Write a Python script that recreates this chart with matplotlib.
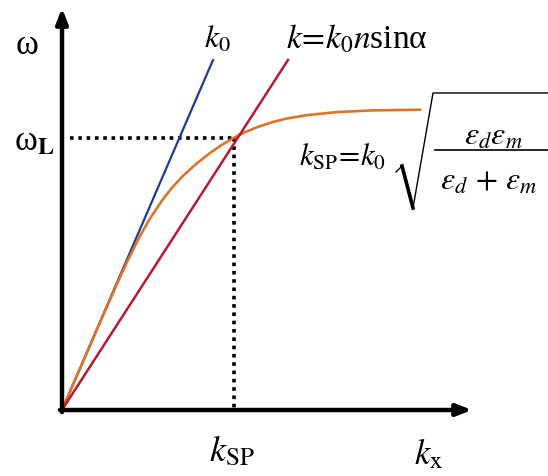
import matplotlib
matplotlib.use("Agg")
from matplotlib import pyplot as plt

plt.rcParams['mathtext.fontset'] = 'stix'
plt.rcParams['font.family'] = ['Liberation Serif', 'DejaVu Serif']

# light lines k0 and k = k0 n sin(alpha), from the origin
k0_x = [0, 151]
k0_y = [0, 350]
kn_x = [0, 226]
kn_y = [0, 350]

# surface plasmon dispersion curve
sp_x = [0, 20, 40, 55, 65, 78, 88, 100, 110, 121, 135, 148, 160, 171, 183, 195, 210, 225, 245, 275, 310, 358]
sp_y = [0, 46, 92, 126, 148, 174, 191.5, 209.5, 222.3, 234.2, 246.8, 257, 265.2, 271.8, 277.8, 282.8,
        287.8, 291.5, 294.9, 297.9, 299.6, 300.3]

# crossing point (k_SP, omega_L)
k_sp = 172
w_l = 272

fig = plt.figure(figsize=(5.48, 4.76), dpi=100)
ax = fig.add_axes([0, 0, 1, 1])
ax.set_xlim(-62, 486)
ax.set_ylim(-66, 410)
ax.axis('off')

# axes with arrows
arrow = dict(arrowstyle='-|>,head_length=0.9,head_width=0.35', lw=3.2,
             color='black', shrinkA=0, shrinkB=0)
ax.annotate('', xy=(0, 402), xytext=(0, -2), arrowprops=arrow)
ax.annotate('', xy=(410, 0), xytext=(-2, 0), arrowprops=arrow)

# dotted guides
ax.plot([8, k_sp], [w_l, w_l], color='black', lw=2.6, linestyle=(0, (1, 1.3)))
ax.plot([k_sp, k_sp], [w_l, 0], color='black', lw=2.6, linestyle=(0, (1, 1.3)))

ax.plot(k0_x, k0_y, color='#1e3a9a', lw=1.6)
ax.plot(sp_x, sp_y, color='#de7428', lw=1.9)
ax.plot(kn_x, kn_y, color='#b81a2e', lw=1.8)

ax.text(-35, 364, 'ω', fontsize=25, ha='center', va='center')
ax.text(-28, 268, r'ω$_{\mathbf{L}}$', fontsize=25, ha='center', va='center')
ax.text(155, 370, r'$k_0$', fontsize=23, ha='center', va='center')
ax.text(224, 371, r'$k\!=\!k_0n$sinα', fontsize=24, ha='left', va='center')

# k_SP formula: sqrt sign and fraction drawn by hand
ax.text(237, 252, r'$k_{\mathrm{SP}}\!=\!k_0$', fontsize=22, ha='left', va='center')
ax.plot([334, 340], [238, 244], color='black', lw=1.0)
ax.plot([340, 351], [244, 202], color='black', lw=2.6)
ax.plot([351, 371, 486], [202, 317, 317], color='black', lw=1.0)
ax.plot([373, 486], [260, 260], color='black', lw=1.2)
ax.text(431, 273, r'$\varepsilon_d\varepsilon_m$', fontsize=23, ha='center', va='center')
ax.text(378, 228, r'$\varepsilon_d\,+\,\varepsilon_m$', fontsize=23, ha='left', va='center')

ax.text(170, -42, r'$k_{\mathrm{SP}}$', fontsize=26, ha='center', va='center')
ax.text(367, -45, r'$k_{\mathrm{x}}$', fontsize=25, ha='center', va='center')

fig.savefig('out.png', dpi=100)
